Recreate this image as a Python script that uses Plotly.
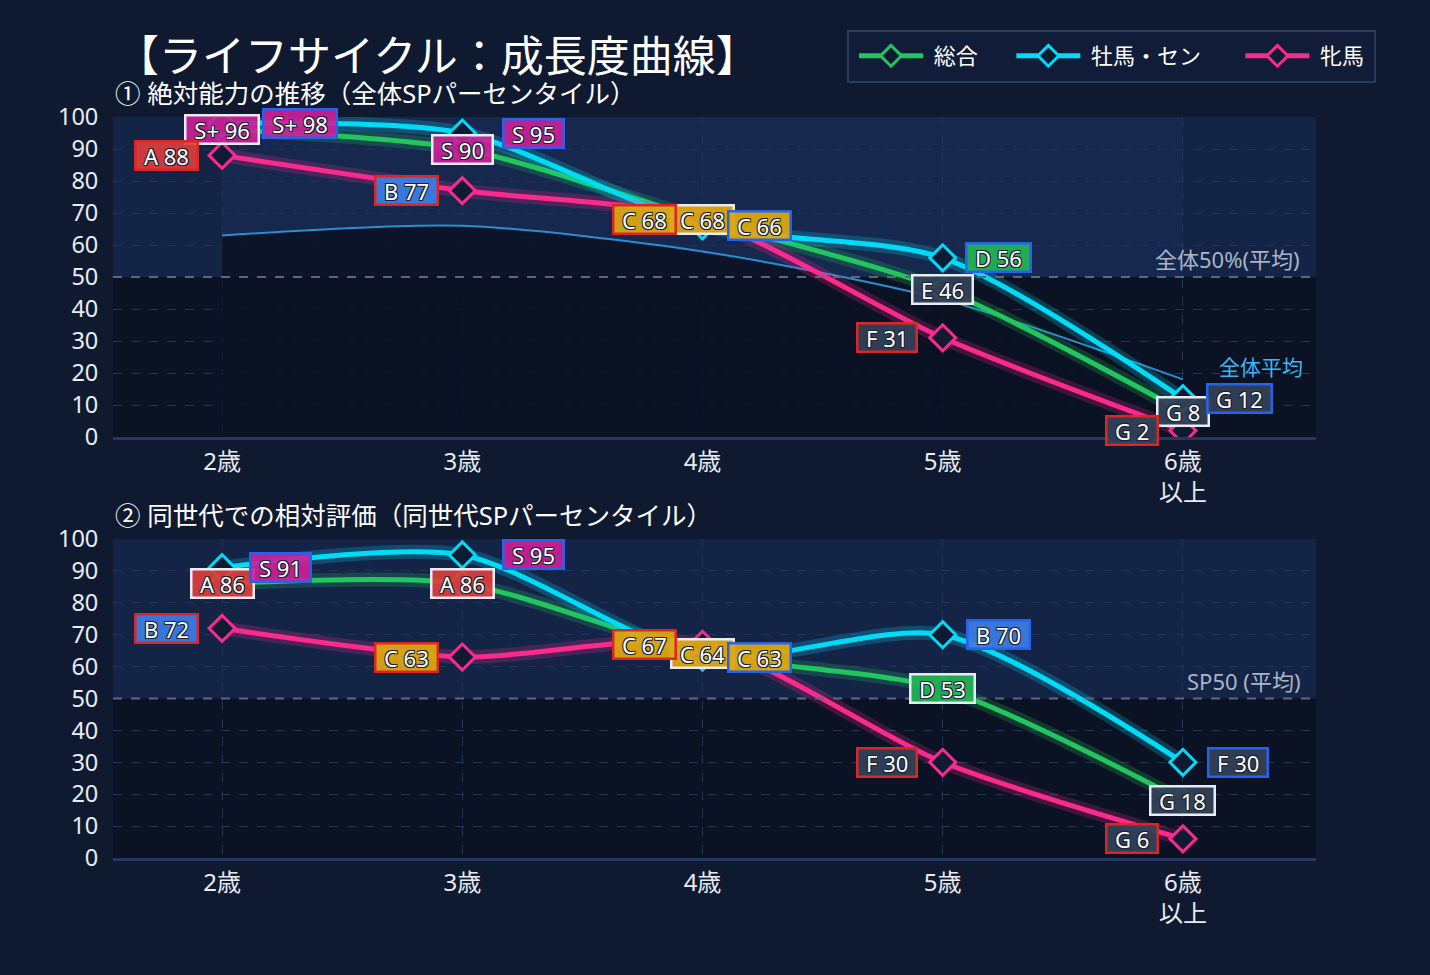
import plotly.graph_objects as go

# ---------------- data ----------------
ages = ["2歳", "3歳", "4歳", "5歳", "6歳<br>以上"]
series_names = ["総合", "牡馬・セン", "牝馬"]

# ① absolute (overall SP percentile)
abs_total = [96, 90, 68, 46, 8]
abs_male = [98, 95, 66, 56, 12]
abs_female = [88, 77, 68, 31, 2]
abs_total_grade = ["S+", "S", "C", "E", "G"]
abs_male_grade = ["S+", "S", "C", "D", "G"]
abs_female_grade = ["A", "B", "C", "F", "G"]
abs_overall_avg = [63, 66, 58, 43, 18]

# ② relative (same-generation SP percentile)
rel_total = [86, 86, 64, 53, 18]
rel_male = [91, 95, 63, 70, 30]
rel_female = [72, 63, 67, 30, 6]
rel_total_grade = ["A", "A", "C", "D", "G"]
rel_male_grade = ["S", "S", "C", "B", "F"]
rel_female_grade = ["B", "C", "C", "F", "G"]

y_ticks = [0, 10, 20, 30, 40, 50, 60, 70, 80, 90, 100]

# ---------------- styles ----------------
FONT = "Noto Sans, Noto Sans CJK JP, sans-serif"
PAPER = "#0f1a31"
DARK = "#0b1223"
LIGHT = "#142447"
GRID = "#22345a"
TEXT = "#e8ecf3"
COLORS = ["#22c55e", "#00dcf8", "#fb2a8c"]
BORDERS = ["#e9edf3", "#2563eb", "#dc2626"]
GRADE_BG = {
    "S+": "rgba(204,32,152,0.92)",
    "S": "rgba(204,32,152,0.92)",
    "A": "rgba(222,62,62,0.92)",
    "B": "rgba(58,124,226,0.95)",
    "C": "rgba(220,166,18,0.95)",
    "D": "rgba(34,178,84,0.95)",
    "E": "rgba(51,65,88,0.95)",
    "F": "rgba(51,65,88,0.95)",
    "G": "rgba(51,65,88,0.95)",
}
SHADOW = ("-1px -1px 0 #1a2233, 1px -1px 0 #1a2233, "
          "-1px 1px 0 #1a2233, 1px 1px 0 #1a2233")

X_RANGE = [-0.454, 4.554]
xs = list(range(len(ages)))
SMOOTH = 0.75

fig = go.Figure()


def add_series(xa, ya, vals, color, name, showlegend):
    fig.add_trace(go.Scatter(
        x=xs, y=vals, xaxis=xa, yaxis=ya, mode="lines",
        line=dict(color=color, width=14, shape="spline", smoothing=SMOOTH),
        opacity=0.22, hoverinfo="skip", showlegend=False))
    fig.add_trace(go.Scatter(
        x=xs, y=vals, xaxis=xa, yaxis=ya, mode="lines+markers", name=name,
        line=dict(color=color, width=5, shape="spline", smoothing=SMOOTH),
        marker=dict(symbol="diamond", size=20, color="#0f1a33",
                    line=dict(color=color, width=3)),
        cliponaxis=True, showlegend=showlegend, legendgroup=name))


# overall average curve (top chart)
fig.add_trace(go.Scatter(
    x=xs, y=abs_overall_avg, xaxis="x", yaxis="y", mode="lines",
    line=dict(color="#2a8fd2", width=2, shape="spline", smoothing=SMOOTH),
    fill="tozeroy", fillcolor="rgba(11,18,35,0.86)",
    hoverinfo="skip", showlegend=False))

top_sets = [abs_total, abs_male, abs_female]
bot_sets = [rel_total, rel_male, rel_female]
# legend display names padded with no-break spaces for item spacing
NB = "\u00a0"
legend_names = [NB + series_names[0] + NB * 5,
                NB + series_names[1] + NB * 6,
                NB + series_names[2]]
for i in range(3):
    add_series("x", "y", top_sets[i], COLORS[i], legend_names[i], True)
for i in range(3):
    add_series("x2", "y2", bot_sets[i], COLORS[i], series_names[i], False)

# ---------------- labels ----------------
LABEL_FS = 22
EM = {"+": 0.60, " ": 0.26, "S": 0.55, "A": 0.64, "B": 0.65, "C": 0.63,
      "D": 0.72, "E": 0.56, "F": 0.52, "G": 0.72}


def text_width(s):
    return sum(EM.get(ch, 0.572) for ch in s) * LABEL_FS


annotations = []


def add_labels(xref, yref, vals, grades, series_idx, shifts):
    for i, (v, g) in enumerate(zip(vals, grades)):
        txt = f"{g} {v}"
        annotations.append(dict(
            x=xs[i], y=v, xref=xref, yref=yref, text=txt, showarrow=False,
            xshift=shifts[i], xanchor="center", yanchor="middle",
            font=dict(family=FONT, size=LABEL_FS, color="#ffffff",
                      shadow=SHADOW),
            bgcolor=GRADE_BG[g], bordercolor=BORDERS[series_idx],
            borderwidth=2.5, borderpad=1.5,
            width=text_width(txt) + 12, height=23))


add_labels("x", "y", abs_total, abs_total_grade, 0, [0, 0, 0, 0, 0])
add_labels("x", "y", abs_male, abs_male_grade, 1, [78, 71, 57, 56, 57])
add_labels("x", "y", abs_female, abs_female_grade, 2, [-56, -56, -58, -56, -51])
add_labels("x2", "y2", rel_total, rel_total_grade, 0, [0, 0, 0, 0, 0])
add_labels("x2", "y2", rel_male, rel_male_grade, 1, [58, 71, 57, 56, 55])
add_labels("x2", "y2", rel_female, rel_female_grade, 2, [-56, -56, -58, -56, -51])

# reference-line captions
annotations.append(dict(
    x=1, xref="x domain", y=50, yref="y", text="全体50%(平均)",
    showarrow=False, xanchor="right", yanchor="bottom", xshift=-14, yshift=1,
    font=dict(family=FONT, size=22, color="#aab4c6")))
annotations.append(dict(
    x=1, xref="x2 domain", y=50, yref="y2", text="SP50 (平均)",
    showarrow=False, xanchor="right", yanchor="bottom", xshift=-14, yshift=1,
    font=dict(family=FONT, size=22, color="#aab4c6")))
annotations.append(dict(
    x=xs[-1], xref="x", y=abs_overall_avg[-1], yref="y", text="全体平均",
    showarrow=False, xanchor="left", yanchor="bottom", xshift=34, yshift=-4,
    font=dict(family=FONT, size=21, color="#3db5ef")))

# titles
annotations.append(dict(
    x=114 / 1430, y=1 - 55 / 975, xref="paper", yref="paper",
    text="【ライフサイクル：成長度曲線】", showarrow=False,
    xanchor="left", yanchor="middle", height=46,
    font=dict(family=FONT, size=43, color="#ffffff")))
annotations.append(dict(
    x=113 / 1430, y=1 - 93 / 975, xref="paper", yref="paper",
    text="① 絶対能力の推移（全体SPパーセンタイル）", showarrow=False,
    xanchor="left", yanchor="middle", height=28,
    font=dict(family=FONT, size=25.5, color="#ffffff")))
annotations.append(dict(
    x=113 / 1430, y=1 - 515 / 975, xref="paper", yref="paper",
    text="② 同世代での相対評価（同世代SPパーセンタイル）", showarrow=False,
    xanchor="left", yanchor="middle", height=28,
    font=dict(family=FONT, size=25.5, color="#ffffff")))

# ---------------- shapes (background bands, 50 line, legend box) ----------------
shapes = []
for xa, ya in (("x", "y"), ("x2", "y2")):
    shapes.append(dict(type="rect", xref=f"{xa} domain", yref=ya,
                       x0=0, x1=1, y0=50, y1=100, fillcolor=LIGHT,
                       line=dict(width=0), layer="below"))
    shapes.append(dict(type="line", xref=f"{xa} domain", yref=ya,
                       x0=0, x1=1, y0=50, y1=50,
                       line=dict(color="#5a6882", width=2, dash="dash"),
                       layer="above"))
shapes.insert(1, dict(type="rect", xref="x", yref="y", x0=0, x1=4,
                      y0=50, y1=100, fillcolor="rgba(40,70,130,0.12)",
                      line=dict(width=0), layer="below"))
shapes.append(dict(type="rect", xref="paper", yref="paper",
                   x0=848 / 1430, x1=1375 / 1430,
                   y0=1 - 82 / 975, y1=1 - 31 / 975,
                   fillcolor="#111d38", line=dict(color="#2b3b5c", width=2),
                   layer="above"))

# ---------------- axes ----------------
x_dom = [113 / 1430, 1316 / 1430]
top_dom = [1 - 437 / 975, 1 - 117 / 975]
bot_dom = [1 - 858 / 975, 1 - 539 / 975]


def xaxis(anchor):
    return dict(domain=x_dom, anchor=anchor, range=X_RANGE,
                tickmode="array", tickvals=xs, ticktext=ages,
                tickfont=dict(family=FONT, size=24, color=TEXT),
                showgrid=True, gridcolor=GRID, griddash="dash", gridwidth=1,
                showline=True, linecolor="#26385f", linewidth=3,
                zeroline=False, ticks="outside", ticklen=1,
                tickcolor="rgba(0,0,0,0)", fixedrange=True)


def yaxis(dom, anchor):
    return dict(domain=dom, anchor=anchor, range=[0, 100],
                tickmode="array", tickvals=y_ticks,
                tickfont=dict(family=FONT, size=23.5, color=TEXT),
                showgrid=True, gridcolor=GRID, griddash="dash", gridwidth=1,
                showline=False, zeroline=False, ticks="outside", ticklen=9,
                tickcolor="rgba(0,0,0,0)", fixedrange=True)


fig.update_layout(
    width=1430, height=975,
    paper_bgcolor=PAPER, plot_bgcolor=DARK,
    margin=dict(l=0, r=0, t=0, b=0, autoexpand=False),
    font=dict(family=FONT, color=TEXT),
    xaxis=xaxis("y"), yaxis=yaxis(top_dom, "x"),
    xaxis2=xaxis("y2"), yaxis2=yaxis(bot_dom, "x2"),
    shapes=shapes, annotations=annotations,
    legend=dict(orientation="h", xref="container", yref="container",
                x=854 / 1430, xanchor="left",
                y=1 - 56 / 975, yanchor="middle",
                bgcolor="rgba(0,0,0,0)", borderwidth=0,
                font=dict(family=FONT, size=22, color="#ffffff"),
                itemwidth=64, traceorder="normal"),
    showlegend=True,
)

fig.write_html("out.html")
